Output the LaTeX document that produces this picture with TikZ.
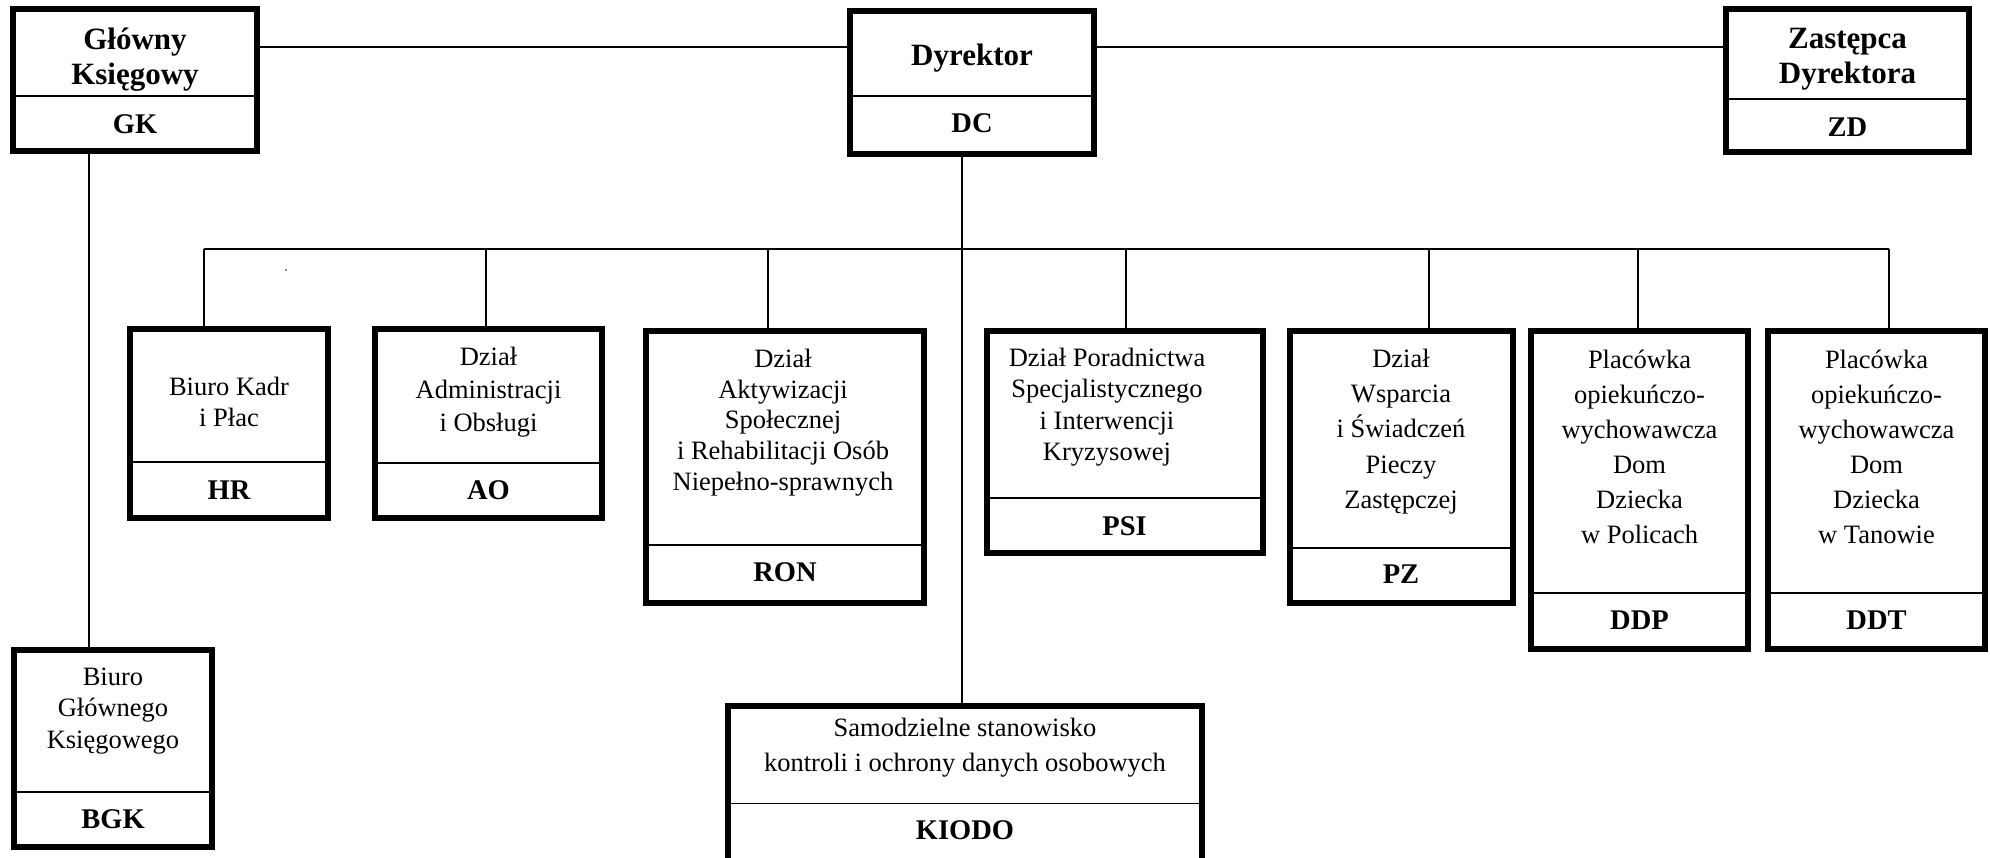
\documentclass[tikz,border=0pt]{standalone}
\usepackage{fontspec}
\setmainfont{Liberation Serif}
\tikzset{
  box/.style={draw, line width=6pt, inner sep=0pt, outer sep=0pt, rectangle},
  divline/.style={line width=1.6pt},
  conn/.style={line width=1.6pt},
  txt/.style={inner sep=0pt, anchor=base, font=\fontsize{26.5}{30}\selectfont},
  hdr/.style={inner sep=0pt, anchor=base, font=\fontsize{31}{35}\selectfont\bfseries},
  code/.style={inner sep=0pt, anchor=base, font=\fontsize{28.5}{32}\selectfont\bfseries},
}
\newcommand{\orgbox}[6]{%
  \node[box, minimum width={#4-#2-6}, minimum height={#5-#3-6}] (#1) at ({(#2+#4)/2},{(#3+#5)/2}) {};
  \draw[divline] (#1.west |- 0,#6) -- (#1.east |- 0,#6);
}
\newcommand{\stack}[6]{%
  \foreach \linetext [count=\i] in {#6} \node[#2] (#1\i) at (#3,{#4+(\i-1)*#5}) {\linetext};
}
\begin{document}
\begin{tikzpicture}[x=1pt,y=-1pt]
\useasboundingbox (0,0) rectangle (1990,858);
\clip (0,0) rectangle (1990,858);
\fill[white] (0,0) rectangle (1990,858);

% top level
\orgbox{gk}{10}{6}{260}{154}{96}
\stack{gkt}{hdr}{135}{50}{35}{Główny,Księgowy}
\node[code] (gkc) at (135,134) {GK};

\orgbox{dc}{847}{8}{1097}{157}{96}
\node[hdr] (dct) at (972,66) {Dyrektor};
\node[code] (dcc) at (972,133) {DC};

\orgbox{zd}{1723}{6}{1972}{155}{99}
\stack{zdt}{hdr}{1847.5}{49}{35}{Zastępca,Dyrektora}
\node[code] (zdc) at (1847.5,137) {ZD};

\coordinate (topline) at (0,47);
\draw[conn] (gk.east |- topline) -- (dc.west |- topline);
\draw[conn] (dc.east |- topline) -- (zd.west |- topline);

% Biuro Głównego Księgowego
\orgbox{bgk}{11}{647}{215}{850}{792}
\stack{bgkt}{txt}{113}{685}{31.7}{Biuro,Głównego,Księgowego}
\node[code] (bgkc) at (113,828) {BGK};
\coordinate (gkdrop) at (89,0);
\draw[conn] (gkdrop |- gk.south) -- (gkdrop |- bgk.north);

% KIODO
\orgbox{kiodo}{725}{703}{1205}{866}{803.3}
\stack{kiodot}{txt}{965}{736.5}{35}{Samodzielne stanowisko,kontroli i ochrony danych osobowych}
\node[code] (kiodoc) at (965,839) {KIODO};
\coordinate (dcdrop) at (962,0);
\draw[conn] (dcdrop |- dc.south) -- (dcdrop |- kiodo.north);

% departments
\orgbox{hr}{127}{326}{331}{521}{462}
\stack{hrt}{txt}{229}{396}{30.7}{Biuro Kadr,i Płac}
\node[code] (hrc) at (229,500) {HR};

\orgbox{ao}{372}{326}{605}{521}{463}
\stack{aot}{txt}{488.5}{366}{33}{Dział,Administracji,i Obsługi}
\node[code] (aoc) at (488.5,500) {AO};

\orgbox{ron}{643}{328}{927}{606}{545}
\stack{ront}{txt}{783}{368}{30.5}{Dział,Aktywizacji,Społecznej,i Rehabilitacji Osób,Niepełno-sprawnych}
\node[code] (ronc) at (785,581.7) {RON};

\orgbox{psi}{984}{328}{1266}{556}{498}
\stack{psit}{txt}{1107}{366.7}{31.3}{Dział Poradnictwa,Specjalistycznego,i Interwencji,Kryzysowej}
\node[code] (psic) at (1124.5,535) {PSI};

\orgbox{pz}{1287}{328}{1516}{606}{548}
\stack{pzt}{txt}{1401}{367.3}{35.3}{Dział,Wsparcia,i Świadczeń,Pieczy,Zastępczej}
\node[code] (pzc) at (1401,583.3) {PZ};

\orgbox{ddp}{1528}{328}{1751}{652}{593}
\stack{ddpt}{txt}{1639.5}{368.3}{35.1}{Placówka,opiekuńczo-,wychowawcza,Dom,Dziecka,w Policach}
\node[code] (ddpc) at (1639.5,629.3) {DDP};

\orgbox{ddt}{1765}{328}{1988}{652}{593}
\stack{ddtt}{txt}{1876.5}{368.3}{35.1}{Placówka,opiekuńczo-,wychowawcza,Dom,Dziecka,w Tanowie}
\node[code] (ddtc) at (1876.5,629.3) {DDT};

% bus
\coordinate (b1) at (204,249);
\coordinate (b2) at (486,249);
\coordinate (b3) at (768,249);
\coordinate (b4) at (1126,249);
\coordinate (b5) at (1429,249);
\coordinate (b6) at (1638,249);
\coordinate (b7) at (1889,249);
\draw[conn] (b1) -- (b7);
\draw[conn] (b1) -- (b1 |- hr.north);
\draw[conn] (b2) -- (b2 |- ao.north);
\draw[conn] (b3) -- (b3 |- ron.north);
\draw[conn] (b4) -- (b4 |- psi.north);
\draw[conn] (b5) -- (b5 |- pz.north);
\draw[conn] (b6) -- (b6 |- ddp.north);
\draw[conn] (b7) -- (b7 |- ddt.north);

% stray dot
\node[fill, circle, inner sep=0pt, minimum size=1.6pt] (dot) at (286,270) {};
\end{tikzpicture}
\end{document}
